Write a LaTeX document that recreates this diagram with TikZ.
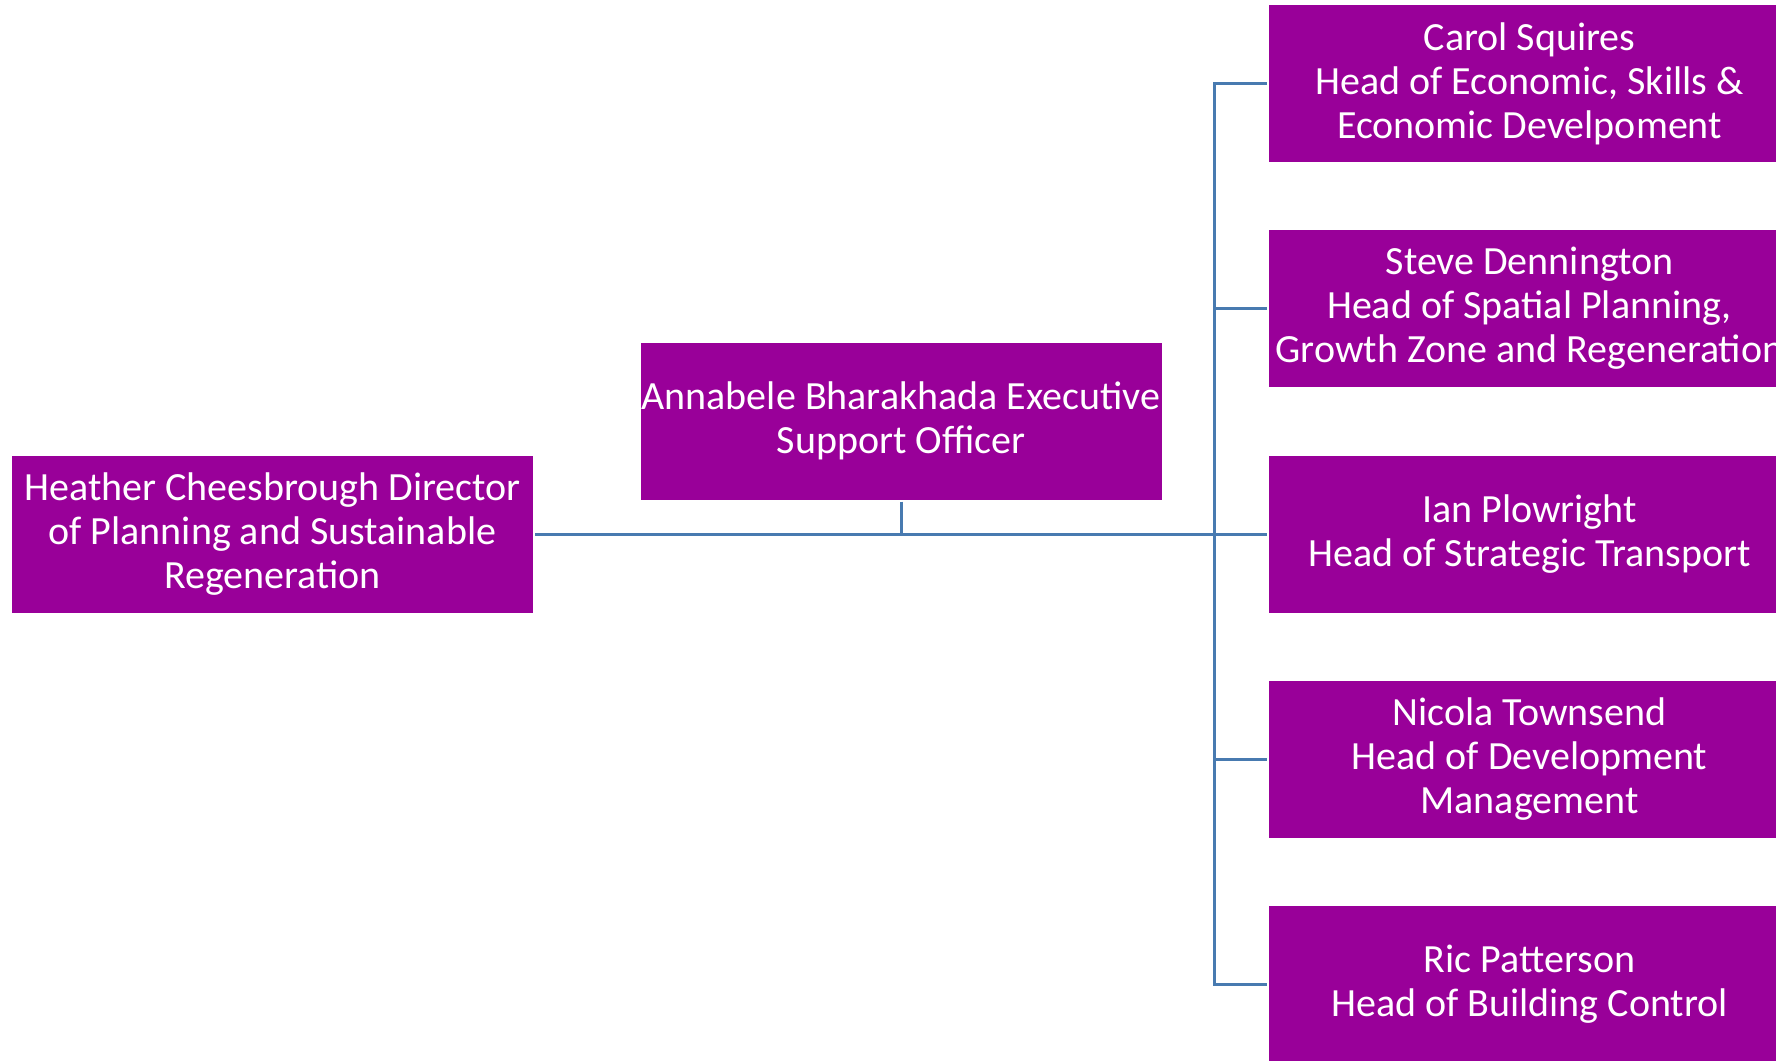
\documentclass[tikz,border=0pt]{standalone}
\usepackage{fontspec}
\setmainfont{Carlito}
\definecolor{boxpurple}{RGB}{153,0,153}
\definecolor{linkblue}{RGB}{72,122,176}
\begin{document}
\begin{tikzpicture}[x=0.5pt,y=-0.5pt,
  person/.style={rectangle, fill=boxpurple, text=white, minimum width=260.5pt,
    minimum height=78.5pt, inner sep=0pt, outer sep=1pt, align=center,
    font=\fontsize{20}{22}\selectfont},
  link/.style={draw=linkblue, line width=1.5pt}]
\useasboundingbox (0,0) rectangle (1776,1060);
\clip (0,0) rectangle (1776,1060);
\node[person] (heather) at (272.5,534) {Heather Cheesbrough Director\\of Planning and Sustainable\\Regeneration};
\node[person] (annabele) at (901,421) {Annabele Bharakhada Executive\\Support Officer};
\node[person] (carol) at (1529.5,83.5) {Carol Squires\\Head of Economic, Skills \&\\Economic Develpoment};
\node[person] (steve) at (1529.5,308.5) {Steve Dennington\\Head of Spatial Planning,\\Growth Zone and Regeneration};
\node[person] (ian) at (1529.5,534) {Ian Plowright\\Head of Strategic Transport};
\node[person] (nicola) at (1529.5,759) {Nicola Townsend\\Head of Development\\Management};
\node[person] (ric) at (1529.5,984.5) {Ric Patterson\\Head of Building Control};
\coordinate (hub) at (1214,534);
\draw[link] (heather.east) -- (hub);
\draw[link] (annabele.south) -- (annabele.south |- hub);
\draw[link] (hub) |- (carol.west);
\draw[link] (hub) |- (steve.west);
\draw[link] (hub) -- (ian.west);
\draw[link] (hub) |- (nicola.west);
\draw[link] (hub) |- (ric.west);
\end{tikzpicture}
\end{document}
